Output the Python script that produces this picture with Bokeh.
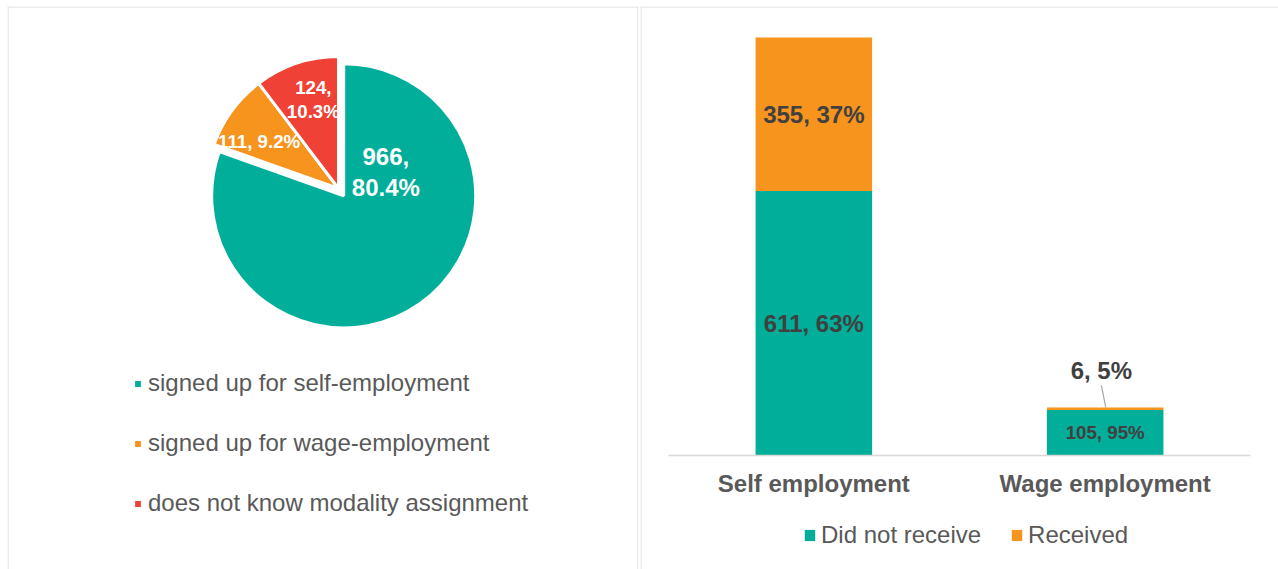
import math
from bokeh.plotting import figure
from bokeh.models import (Range1d, FactorRange, CategoricalAxis, Legend, LegendItem,
                          ColumnDataSource, Span)
from bokeh.transform import dodge
from bokeh.layouts import row
from bokeh.embed import file_html
from bokeh.resources import INLINE
from bokeh.core.properties import value

# ---------------- data ----------------
pie_labels = ["signed up for self-employment",
              "signed up for wage-employment",
              "does not know modality assignment"]
pie_counts = [966, 111, 124]
pie_pcts = [80.4, 9.2, 10.3]
pie_colors = ["#00AE9A", "#F7941E", "#EF4136"]

bar_categories = ["Self employment", "Wage employment"]
bar_series = ["Did not receive", "Received"]
did_not_receive = [611, 105]
received = [355, 6]
bar_colors = ["#00AE9A", "#F7941E"]

FONT = "Liberation Sans"
GREY_TXT = "#595959"
DARK_TXT = "#404040"
BORDER = "#D9D9D9"

# ---------------- left panel : pie ----------------
left = figure(width=639, height=569, x_range=Range1d(7, 638), y_range=Range1d(0, 563),
              output_backend="svg", toolbar_location=None,
              x_axis_location=None, y_axis_location=None,
              min_border_left=7, min_border_right=1, min_border_top=6, min_border_bottom=0,
              outline_line_color=None,
              background_fill_color="white", border_fill_color="white")
left.xgrid.grid_line_color = None
left.ygrid.grid_line_color = None

# panel border (left, top, right edges only; bottom is cut off in the original)
for loc, dim in [(7.5, "height"), (637.5, "height"), (562.5, "width")]:
    left.add_layout(Span(location=loc, dimension=dim, line_color=BORDER, line_width=1))

cx0, cy0, R = 338, 381, 132
explode = [9, 0, 0]
total = sum(pie_counts)
starts, ends, mids = [], [], []
cum = 0.0
for c in pie_counts:
    f = c / total
    a0 = math.pi / 2 - 2 * math.pi * (cum + f)
    a1 = math.pi / 2 - 2 * math.pi * cum
    starts.append(a0)
    ends.append(a1)
    mids.append((a0 + a1) / 2)
    cum += f
px = [cx0 + e * math.cos(m) for e, m in zip(explode, mids)]
py = [cy0 + e * math.sin(m) for e, m in zip(explode, mids)]
psrc = ColumnDataSource(dict(x=px, y=py, start=starts, end=ends, color=pie_colors))
wedges = left.wedge(x="x", y="y", radius=R, start_angle="start", end_angle="end",
                    fill_color="color", line_color="white", line_width=3, source=psrc)

# data labels (polar placement relative to pie centre)
lab_angle = [19.3, 149.2, 105.8]
lab_rfrac = [0.38, 0.70, 0.70]
lab_sep = [",\n", ", ", ",\n"]
lab_size = ["24px", "18.7px", "18.7px"]
ltxt = [f"{c}{s}{p}%" for c, s, p in zip(pie_counts, lab_sep, pie_pcts)]
lx = [cx0 + rf * R * math.cos(math.radians(a)) for a, rf in zip(lab_angle, lab_rfrac)]
ly = [cy0 + rf * R * math.sin(math.radians(a)) for a, rf in zip(lab_angle, lab_rfrac)]
lsrc = ColumnDataSource(dict(x=lx, y=ly, text=ltxt, size=lab_size))
left.text(x="x", y="y", text="text", source=lsrc, text_font=value(FONT),
          text_font_size="size", text_font_style="bold", text_color="white",
          text_align="center", text_baseline="middle", text_line_height=1.12)

pleg = Legend(items=[LegendItem(label=pie_labels[i], renderers=[wedges], index=i) for i in range(3)],
              location=(125, 52), orientation="vertical",
              glyph_width=11, glyph_height=11, label_standoff=5, spacing=32, label_height=28,
              padding=0, margin=0, border_line_color=None, background_fill_alpha=0,
              label_text_font=FONT, label_text_font_size="24px", label_text_color=GREY_TXT)
left.add_layout(pleg)

# ---------------- right panel : stacked bars ----------------
PAD = 0.095
Y0, Y1 = -263.5, 1037.6
right = figure(width=639, height=569,
               x_range=FactorRange(factors=bar_categories, range_padding=PAD,
                                   range_padding_units="absolute"),
               y_range=Range1d(Y0, Y1),
               output_backend="svg", toolbar_location=None,
               x_axis_location=None, y_axis_location=None,
               min_border_left=1, min_border_right=0, min_border_top=6, min_border_bottom=0,
               outline_line_color=None,
               background_fill_color="white", border_fill_color="white")
right.xgrid.grid_line_color = None
right.ygrid.grid_line_color = None

units_per_px_x = (len(bar_categories) + 2 * PAD) / 638
units_per_px_y = (Y1 - Y0) / 563
right.add_layout(Span(location=-PAD + 0.5 * units_per_px_x, dimension="height",
                      line_color=BORDER, line_width=1))
right.add_layout(Span(location=Y1 - 0.5 * units_per_px_y, dimension="width",
                      line_color=BORDER, line_width=1))

bsrc = ColumnDataSource(data={"cat": bar_categories,
                              bar_series[0]: did_not_receive,
                              bar_series[1]: received})
bars = right.vbar_stack(bar_series, x="cat", width=0.4, fill_color=bar_colors,
                        line_color=None, source=bsrc)

ax = CategoricalAxis(fixed_location=0, bounds=(0, 2),
                     axis_line_color=BORDER, axis_line_width=1.5,
                     major_tick_line_color=None, minor_tick_line_color=None,
                     major_tick_in=0, major_tick_out=0,
                     major_label_standoff=15,
                     major_label_text_font=FONT, major_label_text_font_size="24px",
                     major_label_text_font_style="bold", major_label_text_color=GREY_TXT)
right.add_layout(ax, "below")

# bar value labels
series_vals = [did_not_receive, received]
max_tot = max(d + r for d, r in zip(did_not_receive, received))
in_x, in_y, in_t, in_s = [], [], [], []
out_x, out_y, out_t, ld_y0, ld_y1 = [], [], [], [], []
for j, cat in enumerate(bar_categories):
    tot = sum(s[j] for s in series_vals)
    base = 0
    for s in series_vals:
        v = s[j]
        txt = f"{v}, {round(100 * v / tot)}%"
        if v / max_tot > 0.03:
            in_x.append(cat)
            in_y.append(base + v / 2)
            in_t.append(txt)
            in_s.append("24px" if v > 200 else "18.7px")
        else:
            out_x.append(cat)
            out_y.append(tot + 85)
            out_t.append(txt)
            ld_y0.append(tot + 51)
            ld_y1.append(tot)
        base += v

isrc = ColumnDataSource(dict(x=in_x, y=in_y, text=in_t, size=in_s))
right.text(x="x", y="y", text="text", source=isrc, text_font=value(FONT),
           text_font_size="size", text_font_style="bold", text_color=DARK_TXT,
           text_align="center", text_baseline="middle")

osrc = ColumnDataSource(dict(x=out_x, y=out_y, text=out_t, y0=ld_y0, y1=ld_y1))
right.segment(x0=dodge("x", -0.013, range=right.x_range), y0="y0",
              x1=dodge("x", 0.002, range=right.x_range), y1="y1",
              source=osrc, line_color="#A6A6A6", line_width=1.2)
right.text(x=dodge("x", -0.013, range=right.x_range), y="y", text="text", source=osrc,
           text_font=value(FONT), text_font_size="24px", text_font_style="bold",
           text_color=DARK_TXT, text_align="center", text_baseline="middle")

bleg = Legend(items=[LegendItem(label=bar_series[i], renderers=[bars[i]]) for i in range(2)],
              location=(163, 20), orientation="horizontal",
              glyph_width=13, glyph_height=14, label_standoff=5, spacing=29, label_height=28,
              padding=0, margin=0, border_line_color=None, background_fill_alpha=0,
              label_text_font=FONT, label_text_font_size="24px", label_text_color=GREY_TXT)
right.add_layout(bleg)

layout = row(left, right)
open("out.html", "w").write(file_html(layout, INLINE))
